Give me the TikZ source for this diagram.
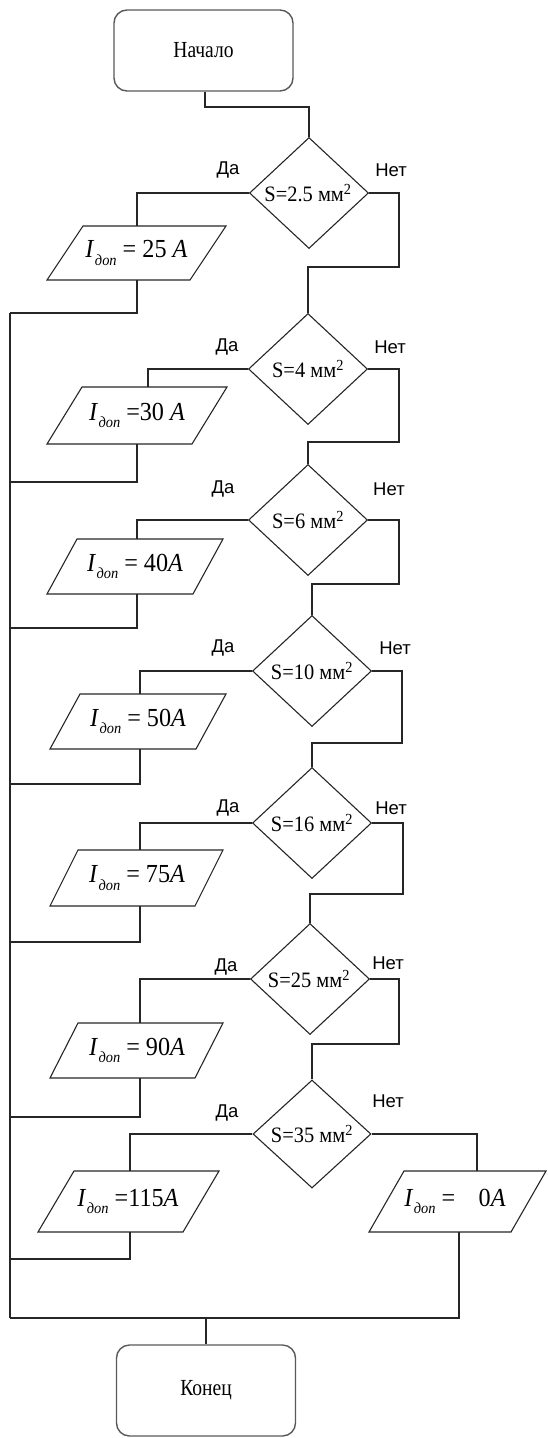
\documentclass[tikz,border=0pt]{standalone}
\usepackage{fontspec}
\setmainfont{Liberation Serif}
\newfontfamily\arl{Liberation Sans}
\newfontfamily\cserif[FakeStretch=0.85]{Liberation Serif}
\newfontfamily\dserif[FakeStretch=0.93]{Liberation Serif}
\newfontfamily\pserif[FakeStretch=0.93]{Liberation Serif}
\usetikzlibrary{shapes.geometric,calc}
\newcommand\Idop{\textit{I}\kern0.5pt\raisebox{-0.3em}{\fontsize{15.5}{15.5}\selectfont\itshape доп}}
\tikzset{
  conn/.style={draw=black!85, line width=1.1pt},
  term/.style={draw=black!65, line width=1.4pt, rounded corners=13pt, inner sep=0pt,
     minimum width=179pt, font=\cserif\fontsize{23}{26}\selectfont},
  dia/.style={diamond, draw=black!85, line width=1.1pt, inner sep=0pt,
     minimum width=119pt, minimum height=111pt},
  dtext/.style={inner sep=0pt, font=\dserif\fontsize{22}{25}\selectfont},
  lbl/.style={inner sep=0pt, font=\arl\fontsize{18.5}{21}\selectfont},
  ptext/.style={inner sep=0pt, font=\pserif\fontsize{26}{29}\selectfont},
  pbox/.style={draw=black!85, line width=1.1pt}
}
\begin{document}
\begin{tikzpicture}[x=1pt,y=-1pt]
\useasboundingbox (0,0) rectangle (547,1438);

% terminals
\node[term, minimum height=81pt] (start) at (203.5,50.5) {Начало};
\node[term, minimum height=91pt] (end) at (206,1390.5) {Конец};

% diamonds
\node[dia] (d1) at (309,193) {};
\node[dia] (d2) at (308,369) {};
\node[dia] (d3) at (308,520) {};
\node[dia] (d4) at (312,671) {};
\node[dia] (d5) at (312,823) {};
\node[dia] (d6) at (310,979) {};
\node[dia, minimum width=118pt, minimum height=108pt] (d7) at (312,1134) {};

\node[dtext] (t1) at (308,193) {S=2.5 мм\textsuperscript{2}};
\node[dtext] (t2) at (308,369) {S=4 мм\textsuperscript{2}};
\node[dtext] (t3) at (308,520) {S=6 мм\textsuperscript{2}};
\node[dtext] (t4) at (312,671) {S=10 мм\textsuperscript{2}};
\node[dtext] (t5) at (312,823) {S=16 мм\textsuperscript{2}};
\node[dtext] (t6) at (309,979) {S=25 мм\textsuperscript{2}};
\node[dtext] (t7) at (312,1134) {S=35 мм\textsuperscript{2}};

% labels
\node[lbl] (y1) at (228,170) {Да};  \node[lbl] (n1) at (391,170) {Нет};
\node[lbl] (y2) at (227,347) {Да};  \node[lbl] (n2) at (390,347) {Нет};
\node[lbl] (y3) at (223,489) {Да};  \node[lbl] (n3) at (389,489) {Нет};
\node[lbl] (y4) at (223,648) {Да};  \node[lbl] (n4) at (395,648) {Нет};
\node[lbl] (y5) at (228,808) {Да};  \node[lbl] (n5) at (391,808) {Нет};
\node[lbl] (y6) at (226,967) {Да};  \node[lbl] (n6) at (388,963) {Нет};
\node[lbl] (y7) at (227,1113) {Да}; \node[lbl] (n7) at (388,1101) {Нет};

% parallelograms
\draw[pbox] (47,280) -- (190,280) -- (226,226) -- (83,226) -- cycle;
\draw[pbox] (47,444) -- (192,444) -- (227,387) -- (82,387) -- cycle;
\draw[pbox] (47,594) -- (193,594) -- (223,539) -- (77,539) -- cycle;
\draw[pbox] (50,749) -- (196,749) -- (226,694) -- (80,694) -- cycle;
\draw[pbox] (50,906) -- (195,906) -- (223,850) -- (78,850) -- cycle;
\draw[pbox] (50,1078) -- (195,1078) -- (223,1023) -- (78,1023) -- cycle;
\draw[pbox] (38,1232) -- (183,1232) -- (219,1171) -- (74,1171) -- cycle;
\draw[pbox] (369,1232) -- (511,1232) -- (546,1171) -- (404,1171) -- cycle;

\node[ptext] (p1) at (136.5,253) {\Idop\ = 25 \textit{A}};
\node[ptext] (p2) at (137,415.5) {\Idop\ =30 \textit{A}};
\node[ptext] (p3) at (135,566.5) {\Idop\ = 40\textit{A}};
\node[ptext] (p4) at (138,721.5) {\Idop\ = 50\textit{A}};
\node[ptext] (p5) at (137,878) {\Idop\ = 75\textit{A}};
\node[ptext] (p6) at (137,1050.5) {\Idop\ = 90\textit{A}};
\node[ptext] (p7) at (128,1201.5) {\Idop\ =115\textit{A}};
\node[ptext] (p8) at (455,1201.5) {\Idop\ =\hspace{0.9em}0\textit{A}};

% attachment coordinates
\coordinate (p1t) at (137,226); \coordinate (p1b) at (137,280);
\coordinate (p2t) at (148,387); \coordinate (p2b) at (137,444);
\coordinate (p3t) at (137,539); \coordinate (p3b) at (137,594);
\coordinate (p4t) at (140,694); \coordinate (p4b) at (140,749);
\coordinate (p5t) at (140,850); \coordinate (p5b) at (140,906);
\coordinate (p6t) at (140,1023); \coordinate (p6b) at (140,1078);
\coordinate (p7t) at (130,1171); \coordinate (p7b) at (130,1232);
\coordinate (p8t) at (477,1171); \coordinate (p8b) at (459,1232);
\coordinate (j1) at (10,313);
\coordinate (j2) at (10,482);
\coordinate (j3) at (10,628);
\coordinate (j4) at (10,784);
\coordinate (j5) at (10,942);
\coordinate (j6) at (10,1117);
\coordinate (j7) at (10,1259);
\coordinate (jb) at (10,1318);

% start to d1
\draw[conn] (start.south -| 205,0) -- (205,107) -| (d1.north);

% yes branches
\draw[conn] (d1.west) -| (p1t);
\draw[conn] (d2.west) -| (p2t);
\draw[conn] (d3.west) -| (p3t);
\draw[conn] (d4.west) -| (p4t);
\draw[conn] (d5.west) -| (p5t);
\draw[conn] (d6.west) -| (p6t);
\draw[conn] (d7.west) -| (p7t);

% no branches
\draw[conn] (d1.east) -- (399,193) -- (399,267) -| (d2.north);
\draw[conn] (d2.east) -- (399,369) -- (399,442) -| (d3.north);
\draw[conn] (d3.east) -- (399,520) -- (399,584) -- (312,584) -- (312,615) -- (d4.north);
\draw[conn] (d4.east) -- (402,671) -- (402,743) -| (d5.north);
\draw[conn] (d5.east) -- (403,823) -- (403,894) -| (d6.north);
\draw[conn] (d6.east) -- (399,979) -- (399,1044) -- (312,1044) -- (d7.north);
\draw[conn] (d7.east) -| (p8t);

% returns
\draw[conn] (p1b) |- (j1);
\draw[conn] (p2b) |- (j2);
\draw[conn] (p3b) |- (j3);
\draw[conn] (p4b) |- (j4);
\draw[conn] (p5b) |- (j5);
\draw[conn] (p6b) |- (j6);
\draw[conn] (p7b) |- (j7);
\draw[conn] (p8b) |- (jb);
\draw[conn] (j1) -- (jb);
\draw[conn] (jb -| end.north) -- (end.north);
\end{tikzpicture}
\end{document}
